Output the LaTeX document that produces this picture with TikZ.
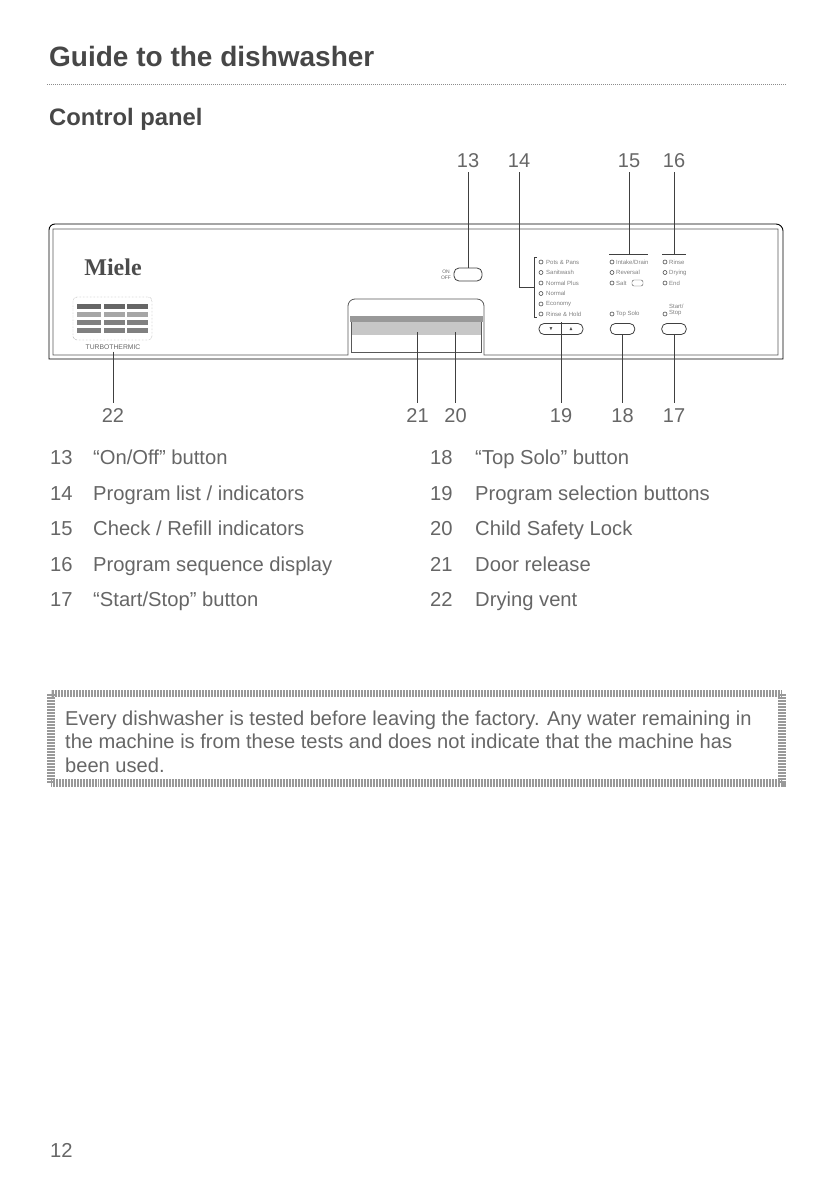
\documentclass[tikz,border=0pt]{standalone}
\usepackage{amssymb}
\usepackage{fontspec}
\setmainfont{Liberation Sans}
\newfontfamily\logofont{Liberation Serif}
\usepackage{tikz}

\begin{document}
\begin{tikzpicture}[
    x=1pt, y=-1pt,
    % Text styles
    titulo/.style={anchor=base west, inner sep=0pt, font=\fontsize{28}{32}\selectfont\bfseries, text=black!72},
    subtitulo/.style={anchor=base west, inner sep=0pt, font=\fontsize{23.8}{26}\selectfont\bfseries, text=black!72},
    numero/.style={anchor=base, inner sep=5pt, font=\fontsize{20}{24}\selectfont, text=black!60},
    entrada/.style={anchor=base west, inner sep=0pt, font=\fontsize{20.2}{24}\selectfont, text=black!60},
    aviso/.style={anchor=base west, inner sep=0pt, font=\fontsize{20.1}{24}\selectfont, text=black!60},
    mini/.style={anchor=west, inner sep=0pt, font=\fontsize{6}{6.5}\selectfont, text=black!50},
    % Panel parts
    guia/.style={black!75, line width=0.8pt},
    borde/.style={black!65, line width=0.8pt},
    boton/.style={draw=black!75, fill=white, rounded corners=5pt, minimum width=24.5pt, minimum height=11pt, inner sep=0pt, line width=0.8pt},
    led/.style={circle, draw=black!70, fill=white, minimum size=4pt, inner sep=0pt, line width=0.6pt}
]
    \useasboundingbox (0,0) rectangle (830,1180);

    % --- HEADINGS ---
    \node[titulo] (title) at (49,67) {Guide to the dishwasher};
    \draw[black!45, line width=1pt, densely dotted] (47,85) -- (787,85);
    \node[subtitulo] (subtitle) at (49,125) {Control panel};

    % --- PANEL OUTLINE ---
    \draw[black, line width=0.9pt] (49,359) -- (49,230) to[out=90,in=180] (55,224) -- (776,224) to[out=0,in=90] (783,231) -- (783,359) -- cycle;
    \draw[borde] (53,355) -- (53,229) -- (778,229) -- (778,355) -- (484,355) -- (484,306)
        to[out=90,in=0] (477,299) -- (355,299) to[out=180,in=90] (348,306) -- (348,355) -- cycle;
    \fill[black!40] (350,316) rectangle (483,322);
    \fill[black!22] (351,322) rectangle (481,335);
    \draw[borde] (351,322) -- (351,352) -- (481,352) -- (481,322);

    % --- LOGO AND VENT ---
    \node[inner sep=0pt, font=\fontsize{24}{25}\logofont\bfseries, text=black!70] (logo) at (113,267) {Miele};
    \node[draw=black!60, densely dotted, rounded corners=4pt, minimum width=79pt, minimum height=43pt, inner sep=0pt] (vent) at (112.5,318.5) {};
    \foreach \fila/\tono in {304/60,312/35,320/50,328/50}{
        \foreach \col/\largo in {77/24,104/21,127/21}{
            \fill[black!\tono] (\col,\fila) rectangle ++(\largo,5);
        }
    }
    \node[inner sep=2pt, font=\fontsize{6.8}{8}\selectfont, text=black!60] (turbo) at (113,347) {TURBOTHERMIC};

    % --- BUTTONS ---
    \node[boton, minimum width=28pt, minimum height=13pt] (onoff) at (468,274.5) {};
    \node[inner sep=0pt, font=\fontsize{5}{6}\selectfont, text=black!60, align=center] (onofftxt) at (446,275) {ON\\OFF};
    \node[boton, minimum width=44pt] (prog) at (561,329) {};
    \node[inner sep=0pt, font=\fontsize{5}{6}\selectfont, text=black!70] (progdown) at (551,329) {$\blacktriangledown$};
    \node[inner sep=0pt, font=\fontsize{5}{6}\selectfont, text=black!70] (progup) at (571,329) {$\blacktriangle$};
    \node[boton] (topsolo) at (622.5,329) {};
    \node[boton] (startstop) at (674,329) {};

    % --- INDICATORS ---
    \foreach \y/\txt in {262/Pots \& Pans,272.5/Sanitwash,283/Normal Plus,293.5/Normal,304/Economy,314/Rinse \& Hold}{
        \node[led] at (541,\y) {};
        \node[mini] at (546,\y) {\txt};
    }
    \foreach \y/\txt in {262/{Intake/Drain},272.5/Reversal,283/Salt}{
        \node[led] at (612,\y) {};
        \node[mini] at (616,\y) {\txt};
    }
    \foreach \y/\txt in {262/Rinse,272.5/Drying,283/End}{
        \node[led] at (665,\y) {};
        \node[mini] at (669,\y) {\txt};
    }
    \node[led] at (612,314) {};
    \node[mini] at (616,314) {Top Solo};
    \node[led] at (665,314) {};
    \node[mini, align=left] at (669,310) {Start/\\Stop};
    \node[draw=black!70, rounded corners=2pt, minimum width=11pt, minimum height=6pt, inner sep=0pt] (saltbox) at (637.5,283) {};

    % --- BRACKETS ---
    \coordinate (listmid) at (534,287);
    \draw[guia] (537,257) -- (534,257) -- (534,317) -- (537,317);
    \coordinate (checkbar) at (629,254);
    \coordinate (seqbar) at (674,254);
    \draw[guia] (609,254) -- (648,254);
    \draw[guia] (662,254) -- (686,254);

    % --- NUMBERS ABOVE AND BELOW ---
    \node[numero] (n13) at (468,167) {13};
    \node[numero] (n14) at (519,167) {14};
    \node[numero] (n15) at (629,167) {15};
    \node[numero] (n16) at (674,167) {16};
    \node[numero] (n22) at (113,422) {22};
    \node[numero] (n21) at (417.5,422) {21};
    \node[numero] (n20) at (455.5,422) {20};
    \node[numero] (n19) at (561,422) {19};
    \node[numero] (n18) at (622.5,422) {18};
    \node[numero] (n17) at (674,422) {17};

    % --- LEADERS ---
    \coordinate (handle21) at (417.5,332);
    \coordinate (handle20) at (455.5,332);
    \coordinate (progtop) at (561,322);
    \draw[guia] (n13.south) -- (onoff.north);
    \draw[guia] (n14.south) -- (n14.south |- listmid) -- (listmid);
    \draw[guia] (n15.south) -- (checkbar);
    \draw[guia] (n16.south) -- (seqbar);
    \draw[guia] (turbo.south) -- (n22.north);
    \draw[guia] (handle21) -- (n21.north);
    \draw[guia] (handle20) -- (n20.north);
    \draw[guia] (progtop) -- (n19.north);
    \draw[guia] (topsolo.south) -- (n18.north);
    \draw[guia] (startstop.south) -- (n17.north);

    % --- KEY ---
    \foreach \y/\num/\txt in {464/13/{``On/Off'' button},500/14/{Program list / indicators},535/15/{Check / Refill indicators},571/16/{Program sequence display},606/17/{``Start/Stop'' button}}{
        \node[entrada] at (50,\y) {\num};
        \node[entrada] at (93,\y) {\txt};
    }
    \foreach \y/\num/\txt in {464/18/{``Top Solo'' button},500/19/{Program selection buttons},535/20/{Child Safety Lock},571/21/{Door release},606/22/{Drying vent}}{
        \node[entrada] at (430,\y) {\num};
        \node[entrada] at (475,\y) {\txt};
    }

    % --- NOTE BOX ---
    \draw[black!40, line width=7.5pt, dash pattern=on 0.9pt off 0.6pt] (51,693.5) rectangle (782,783);
    \node[aviso] (nota1) at (65,725) {Every dishwasher is tested before leaving the factory. Any water remaining in};
    \node[aviso] (nota2) at (65,748) {the machine is from these tests and does not indicate that the machine has};
    \node[aviso] (nota3) at (65,772) {been used.};

    \node[entrada] (pagina) at (50,1157) {12};
\end{tikzpicture}
\end{document}
